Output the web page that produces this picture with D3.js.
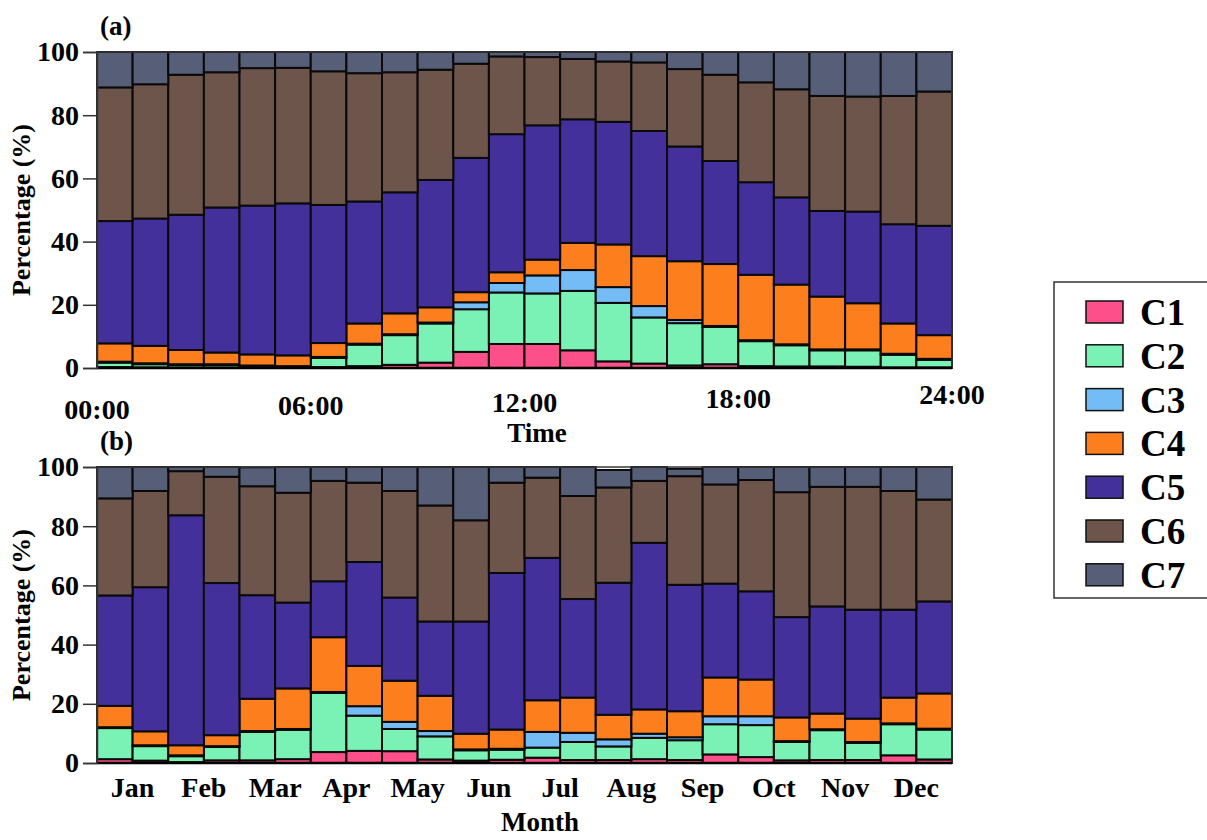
<!DOCTYPE html>
<html>
<head>
<meta charset="utf-8">
<script src="https://cdn.jsdelivr.net/npm/d3@7"></script>
<style>
  body { margin: 0; background: #fff; }
  svg { display: block; }
  text { font-family: "Liberation Serif", "Times New Roman", serif; font-weight: bold; fill: #000; }
</style>
</head>
<body>
<svg id="chart" width="1207" height="840"></svg>
<script>
// cluster names and colours
const keys = ["C1", "C2", "C3", "C4", "C5", "C6", "C7"];
const colors = ["#fd4f8a", "#7af2b6", "#74bcf5", "#fd7e1c", "#44309b", "#6d554c", "#575e78"];

// (a) hourly bins
const hourBins = ["00", "01", "02", "03", "04", "05", "06", "07", "08", "09", "10", "11",
  "12", "13", "14", "15", "16", "17", "18", "19", "20", "21", "22", "23"];
const hourTicks = [0, 6, 12, 18, 24];

const hC1 = [0.3, 0.2, 0.1, 0.1, 0.1, 0.1, 0.3, 0.6, 1.0, 1.7, 5.1, 7.6, 7.6, 5.6, 2.1, 1.4, 0.8, 1.2, 0.6, 0.5, 0.5, 0.4, 0.2, 0.2];
const hC2 = [1.4, 1.0, 0.8, 0.8, 0.5, 0.3, 2.9, 6.8, 9.4, 12.4, 13.5, 16.3, 16.0, 18.8, 18.5, 14.6, 13.4, 11.8, 7.9, 6.7, 5.1, 5.2, 4.0, 2.4];
const hC3 = [0.3, 0.3, 0.3, 0.3, 0.2, 0.2, 0.3, 0.3, 0.3, 0.3, 2.2, 3.0, 5.7, 6.6, 5.0, 3.6, 1.0, 0.3, 0.3, 0.3, 0.3, 0.3, 0.3, 0.3];
const hC4 = [5.8, 5.5, 4.5, 3.7, 3.5, 3.4, 4.4, 6.4, 6.6, 4.8, 3.2, 3.4, 5.0, 8.6, 13.5, 15.8, 18.6, 19.6, 20.7, 18.9, 16.7, 14.6, 9.6, 7.5];
const hC5 = [38.7, 40.3, 42.8, 45.9, 47.1, 48.1, 43.7, 38.6, 38.3, 40.3, 42.5, 43.7, 42.5, 39.1, 38.8, 39.6, 36.3, 32.6, 29.3, 27.6, 27.1, 29.0, 31.4, 34.6];
const hC6 = [42.3, 42.5, 44.3, 42.8, 43.5, 42.9, 42.3, 40.6, 38.0, 34.9, 29.8, 24.6, 21.6, 19.1, 19.1, 21.7, 24.5, 27.3, 31.6, 34.2, 36.4, 36.4, 40.6, 42.5];
const hC7 = [11.2, 10.2, 7.2, 6.4, 5.1, 5.0, 6.1, 6.7, 6.4, 5.6, 3.7, 1.4, 1.6, 2.2, 3.0, 3.3, 5.4, 7.2, 9.6, 11.8, 13.9, 14.1, 13.9, 12.5];

// (b) two bars per month
const months = ["Jan", "Feb", "Mar", "Apr", "May", "Jun", "Jul", "Aug", "Sep", "Oct", "Nov", "Dec"];
const monthBins = ["Jan1", "Jan2", "Feb1", "Feb2", "Mar1", "Mar2", "Apr1", "Apr2", "May1", "May2", "Jun1", "Jun2",
  "Jul1", "Jul2", "Aug1", "Aug2", "Sep1", "Sep2", "Oct1", "Oct2", "Nov1", "Nov2", "Dec1", "Dec2"];

const mC1 = [1.3, 0.8, 0.3, 0.9, 0.9, 1.3, 3.7, 4.1, 4.0, 1.2, 0.8, 1.1, 1.8, 1.0, 1.0, 1.3, 1.0, 2.9, 2.0, 0.9, 1.0, 1.0, 2.6, 1.2];
const mC2 = [10.5, 4.9, 2.0, 4.5, 9.6, 9.9, 20.0, 11.9, 7.5, 7.8, 3.5, 3.4, 3.4, 6.1, 4.6, 7.2, 6.7, 10.2, 10.8, 6.2, 10.1, 5.8, 10.5, 10.1];
const mC3 = [0.3, 0.3, 0.3, 0.3, 0.3, 0.3, 0.3, 3.2, 2.4, 1.8, 0.3, 0.3, 5.3, 3.1, 2.4, 1.4, 1.0, 2.7, 3.0, 0.3, 0.3, 0.3, 0.3, 0.3];
const mC4 = [7.2, 4.7, 3.4, 3.7, 10.9, 13.7, 18.5, 13.6, 13.9, 11.9, 5.3, 6.5, 10.7, 11.9, 8.3, 8.2, 8.8, 13.1, 12.4, 8.0, 5.3, 7.9, 8.7, 11.9];
const mC5 = [37.3, 48.7, 77.7, 51.4, 35.0, 29.0, 18.9, 35.1, 28.1, 25.1, 37.9, 52.9, 48.1, 33.3, 44.6, 56.3, 42.7, 31.7, 29.8, 33.9, 36.2, 36.8, 29.7, 31.1];
const mC6 = [32.8, 32.5, 14.9, 35.9, 36.8, 37.1, 33.9, 26.8, 36.0, 39.2, 34.2, 30.5, 27.1, 34.8, 32.2, 20.9, 36.7, 33.5, 37.6, 42.2, 40.4, 41.5, 40.1, 34.4];
const mC7 = [10.6, 8.1, 1.4, 3.3, 6.4, 8.7, 4.7, 5.3, 8.1, 13.0, 18.0, 5.3, 3.6, 9.8, 5.9, 4.7, 2.5, 5.9, 4.4, 8.5, 6.7, 6.7, 8.1, 11.0];

const yTicks = [0, 20, 40, 60, 80, 100];

const svg = d3.select('#chart');
const left = 97, right = 952;

function rowsFrom(bins, series) {
  return bins.map((b, i) => {
    const r = { bin: b };
    keys.forEach((k, j) => { r[k] = series[j][i]; });
    return r;
  });
}

function drawPanel(rows, bins, top, bottom, tag) {
  const x = d3.scaleBand().domain(bins).range([left, right]).padding(0);
  const y = d3.scaleLinear().domain([0, 100]).range([bottom, top]);
  const stacked = d3.stack().keys(keys)(rows);

  const g = svg.append('g');

  g.selectAll('g.layer')
    .data(stacked)
    .join('g')
    .attr('class', 'layer')
    .attr('fill', (d, i) => colors[i])
    .selectAll('rect')
    .data(d => d)
    .join('rect')
    .attr('x', d => x(d.data.bin))
    .attr('width', x.bandwidth())
    .attr('y', d => y(d[1]))
    .attr('height', d => Math.max(0, y(d[0]) - y(d[1])))
    .attr('stroke', '#0a0a0a')
    .attr('stroke-width', 2);

  // frame
  g.append('rect')
    .attr('x', left).attr('y', top)
    .attr('width', right - left).attr('height', bottom - top)
    .attr('fill', 'none').attr('stroke', '#3a3a3a').attr('stroke-width', 1.5);

  g.append('line')
    .attr('x1', left).attr('x2', right)
    .attr('y1', bottom).attr('y2', bottom)
    .attr('stroke', '#000').attr('stroke-width', 2.5);

  const ya = g.append('g')
    .attr('transform', 'translate(' + left + ',0)')
    .call(d3.axisLeft(y).tickValues(yTicks).tickSize(14).tickPadding(4));
  ya.select('.domain').attr('stroke', '#333').attr('stroke-width', 1.5);
  ya.selectAll('.tick line').attr('stroke', '#333').attr('stroke-width', 1.5);
  ya.selectAll('.tick text').style('font-size', '28px');

  g.append('text')
    .attr('transform', 'translate(30,' + (top + bottom) / 2 + ') rotate(-90)')
    .attr('text-anchor', 'middle')
    .style('font-size', '26px')
    .text('Percentage (%)');

  g.append('text')
    .attr('x', 100).attr('y', top - 17)
    .style('font-size', '27px')
    .text(tag);

  return g;
}

// panel (a)
const topA = 52, bottomA = 368;
drawPanel(rowsFrom(hourBins, [hC1, hC2, hC3, hC4, hC5, hC6, hC7]), hourBins, topA, bottomA, '(a)');

const xTime = d3.scaleLinear().domain([0, 24]).range([left, right]);
svg.append('g').selectAll('text')
  .data(hourTicks)
  .join('text')
  .attr('x', d => xTime(d))
  .attr('y', d => 419 - d * 0.62)
  .attr('text-anchor', 'middle')
  .style('font-size', '28px')
  .text(d => d3.format('02')(d) + ':00');

svg.append('text')
  .attr('x', 537).attr('y', 442)
  .attr('text-anchor', 'middle')
  .style('font-size', '27px')
  .text('Time');

// panel (b)
const topB = 467, bottomB = 763;
drawPanel(rowsFrom(monthBins, [mC1, mC2, mC3, mC4, mC5, mC6, mC7]), monthBins, topB, bottomB, '(b)');

const xMonth = d3.scaleBand().domain(months).range([left, right]);
const mx = svg.append('g')
  .attr('transform', 'translate(0,' + bottomB + ')')
  .call(d3.axisBottom(xMonth).tickSize(0).tickPadding(14));
mx.select('.domain').remove();
mx.selectAll('.tick text').style('font-size', '28px').attr('dy', '0.71em');

svg.append('text')
  .attr('x', 540).attr('y', 831)
  .attr('text-anchor', 'middle')
  .style('font-size', '27px')
  .text('Month');

// legend
const legend = svg.append('g');
legend.append('rect')
  .attr('x', 1054).attr('y', 282)
  .attr('width', 170).attr('height', 316)
  .attr('fill', '#fff').attr('stroke', '#333').attr('stroke-width', 1.5);

const item = legend.selectAll('g.item')
  .data(keys)
  .join('g')
  .attr('class', 'item')
  .attr('transform', (d, i) => 'translate(0,' + (312 + i * 43.8) + ')');

item.append('rect')
  .attr('x', 1086).attr('y', -11)
  .attr('width', 37).attr('height', 22)
  .attr('fill', (d, i) => colors[i])
  .attr('stroke', '#111').attr('stroke-width', 1.5);

item.append('text')
  .attr('x', 1140).attr('y', 13)
  .style('font-size', '37px')
  .text(d => d);
</script>
</body>
</html>
